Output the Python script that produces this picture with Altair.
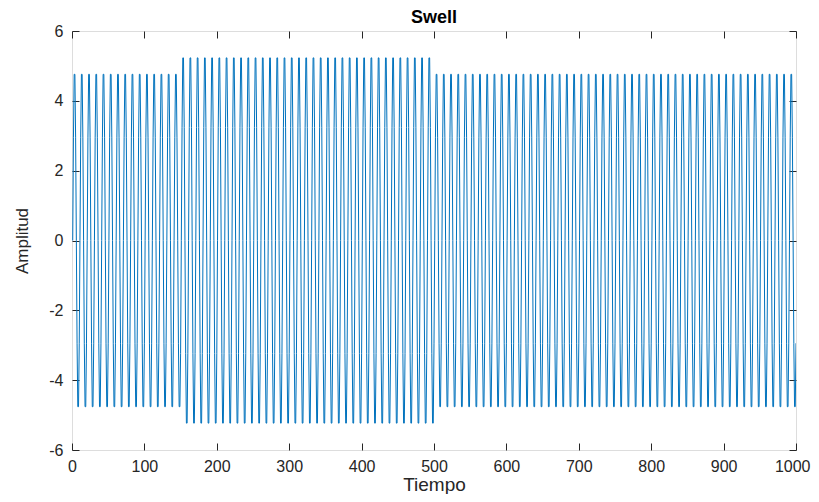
import altair as alt
import pandas as pd

SHAPE = [0.0, 0.618, 1.0, 1.0, 0.618, 0.0, -0.618, -1.0, -1.0, -0.618]
# Segments: start sample, end sample, peak amplitude (normal / swell / normal)
SEG_START = [1, 150, 500]
SEG_END = [149, 499, 1000]
SEG_PEAK = [4.76, 5.23, 4.76]

X_TICKS = [0, 100, 200, 300, 400, 500, 600, 700, 800, 900, 1000]
Y_TICKS = [-6, -4, -2, 0, 2, 4, 6]

rows = []
for s, e, p in zip(SEG_START, SEG_END, SEG_PEAK):
    for n in range(s, e + 1):
        rows.append({"t": n, "amp": SHAPE[(n - 1) % len(SHAPE)] * p})
df = pd.DataFrame(rows)

FONT = "Liberation Sans"
TXT = "#262626"
xs = alt.Scale(domain=[0, 1000], nice=False, zero=False)
ys = alt.Scale(domain=[-6, 6], nice=False, zero=False)

common = dict(offset=-7, tickSize=7, domain=False, grid=False, tickColor=TXT,
              tickWidth=1, labelFlush=False)

last_x = "datum.value == 1000"

line = alt.Chart(df).mark_line(color="#0072BD", strokeWidth=1.0, clip=True).encode(
    x=alt.X("t:Q", scale=xs, axis=alt.Axis(
        orient="bottom", values=X_TICKS, title="Tiempo", labelPadding=8,
        labelAlign=alt.condition(last_x, alt.value("right"), alt.value("center")),
        labelOffset=alt.condition(last_x, alt.value(14), alt.value(0)),
        labelFont=FONT, labelFontSize=16, labelColor=TXT, labelExpr="'' + datum.value",
        titleFont=FONT, titleFontSize=19, titleFontWeight="normal", titleColor=TXT,
        titlePadding=1, **common)),
    y=alt.Y("amp:Q", scale=ys, axis=alt.Axis(
        orient="left", values=Y_TICKS, title="Amplitud", labelPadding=9,
        labelFont=FONT, labelFontSize=16, labelColor=TXT, labelExpr="'' + datum.value",
        titleFont=FONT, titleFontSize=17, titleFontWeight="normal", titleColor=TXT,
        titlePadding=17, **common)),
)

frame = alt.Chart(df).mark_line(opacity=0).encode(
    x=alt.X("t:Q", scale=xs, axis=alt.Axis(orient="top", values=X_TICKS, labels=False,
                                           title="", **common)),
    y=alt.Y("amp:Q", scale=ys, axis=alt.Axis(orient="right", values=Y_TICKS, labels=False,
                                             title="", **common)),
)

chart = alt.layer(line, frame).resolve_axis(x="independent", y="independent").properties(
    width=724, height=419,
    title=alt.TitleParams("Swell", font=FONT, fontSize=18, fontWeight="bold", color="#000000",
                          anchor="middle", offset=-4),
    autosize=alt.AutoSizeParams(type="none"),
    padding={"left": 64, "top": 23, "right": 15, "bottom": 44},
).configure_view(stroke="#404040", strokeWidth=1).configure(background="white")

chart.save("out.html", embed_options={"renderer": "svg", "actions": False})
